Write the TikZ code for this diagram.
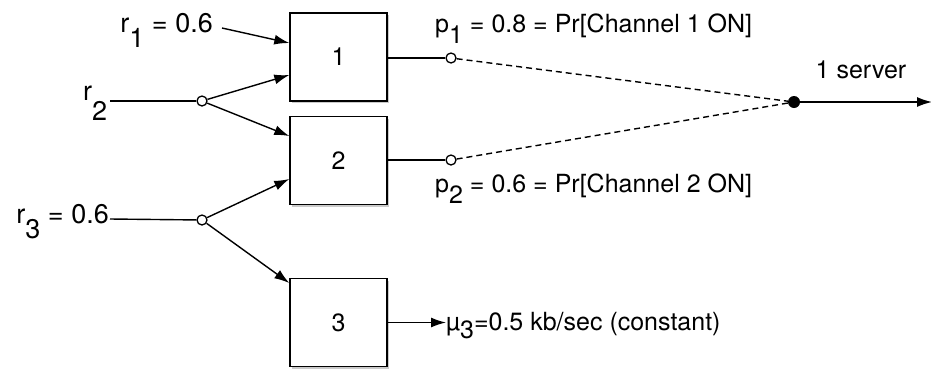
\documentclass[tikz,border=0pt]{standalone}
\usepackage{fontspec}
\setmainfont{TeX Gyre Heros}
\usetikzlibrary{arrows.meta,shadows}
\newcommand\lowr[2]{\raisebox{-#1}{#2}}
\tikzset{
  every node/.style={font=\fontsize{25}{28}\selectfont, inner sep=0pt},
  big/.style={font=\fontsize{27}{30}\selectfont},
  blk/.style={draw, line width=1.4pt, fill=white, minimum width=97pt, minimum height=88pt,
    drop shadow={shadow xshift=2pt, shadow yshift=-2pt, opacity=0.35, fill=black!60}},
  wire/.style={line width=1.4pt},
  arr/.style={wire, -{Latex[length=15pt,width=10pt]}},
  opn/.style={circle, draw, line width=1.3pt, fill=white, minimum size=10pt},
  cls/.style={circle, fill=black, minimum size=12pt},
  lbl/.style={anchor=base west},
}
\begin{document}
\begin{tikzpicture}[x=1pt,y=-1pt]
\useasboundingbox (0,0) rectangle (931,368);
% blocks
\node[blk] (b1) at (338.5,57) {1};
\node[blk] (b2) at (338.5,160.5) {2};
\node[blk] (b3) at (338.5,322.5) {3};
% junctions
\node[opn] (j2) at (202,101) {};
\node[opn] (j3) at (202,220) {};
\node[opn] (o1) at (451,58) {};
\node[opn] (o2) at (451,160) {};
\node[cls] (srv) at (794,102) {};
% labels
\node[big, anchor=base east] (r1) at (213,32) {r\lowr{15pt}{1} = 0.6};
\node[big, lbl] (r2) at (83,100) {r\lowr{20pt}{2}};
\node[big, anchor=base east] (r3) at (109,223) {r\lowr{15pt}{3} = 0.6};
\node[lbl] (p1) at (435,32) {p\lowr{11pt}{1} = 0.8 = Pr[Channel 1 ON]};
\node[lbl] (p2) at (435,192) {p\lowr{11pt}{2} = 0.6 = Pr[Channel 2 ON]};
\node[anchor=base] (sl) at (861,78) {1 server};
\node[lbl] (mu) at (446,330) {µ\lowr{8pt}{3}=0.5 kb/sec (constant)};
\coordinate (r1e) at (222,28);
\coordinate (r2e) at (110,101);
\coordinate (r3e) at (110,219);
\coordinate (out) at (932,102);
% connectors
\draw[arr] (r1e) -- (b1.west |- 0,43);
\draw[wire] (r2e) -- (j2);
\draw[arr] (j2) -- (b1.west |- 0,75);
\draw[arr] (j2) -- (b2.west |- 0,136);
\draw[wire] (r3e) -- (j3);
\draw[arr] (j3) -- (b2.west |- 0,179);
\draw[arr] (j3) -- (b3.west |- 0,283);
\draw[wire] (b1.east |- o1) -- (o1);
\draw[wire] (b2.east |- o2) -- (o2);
\draw[wire, dash pattern=on 6pt off 4pt] (o1) -- (srv);
\draw[wire, dash pattern=on 6pt off 4pt] (o2) -- (srv);
\draw[arr] (srv) -- (out);
\draw[arr] (b3.east) -- (mu.west |- b3.east);
\end{tikzpicture}
\end{document}
